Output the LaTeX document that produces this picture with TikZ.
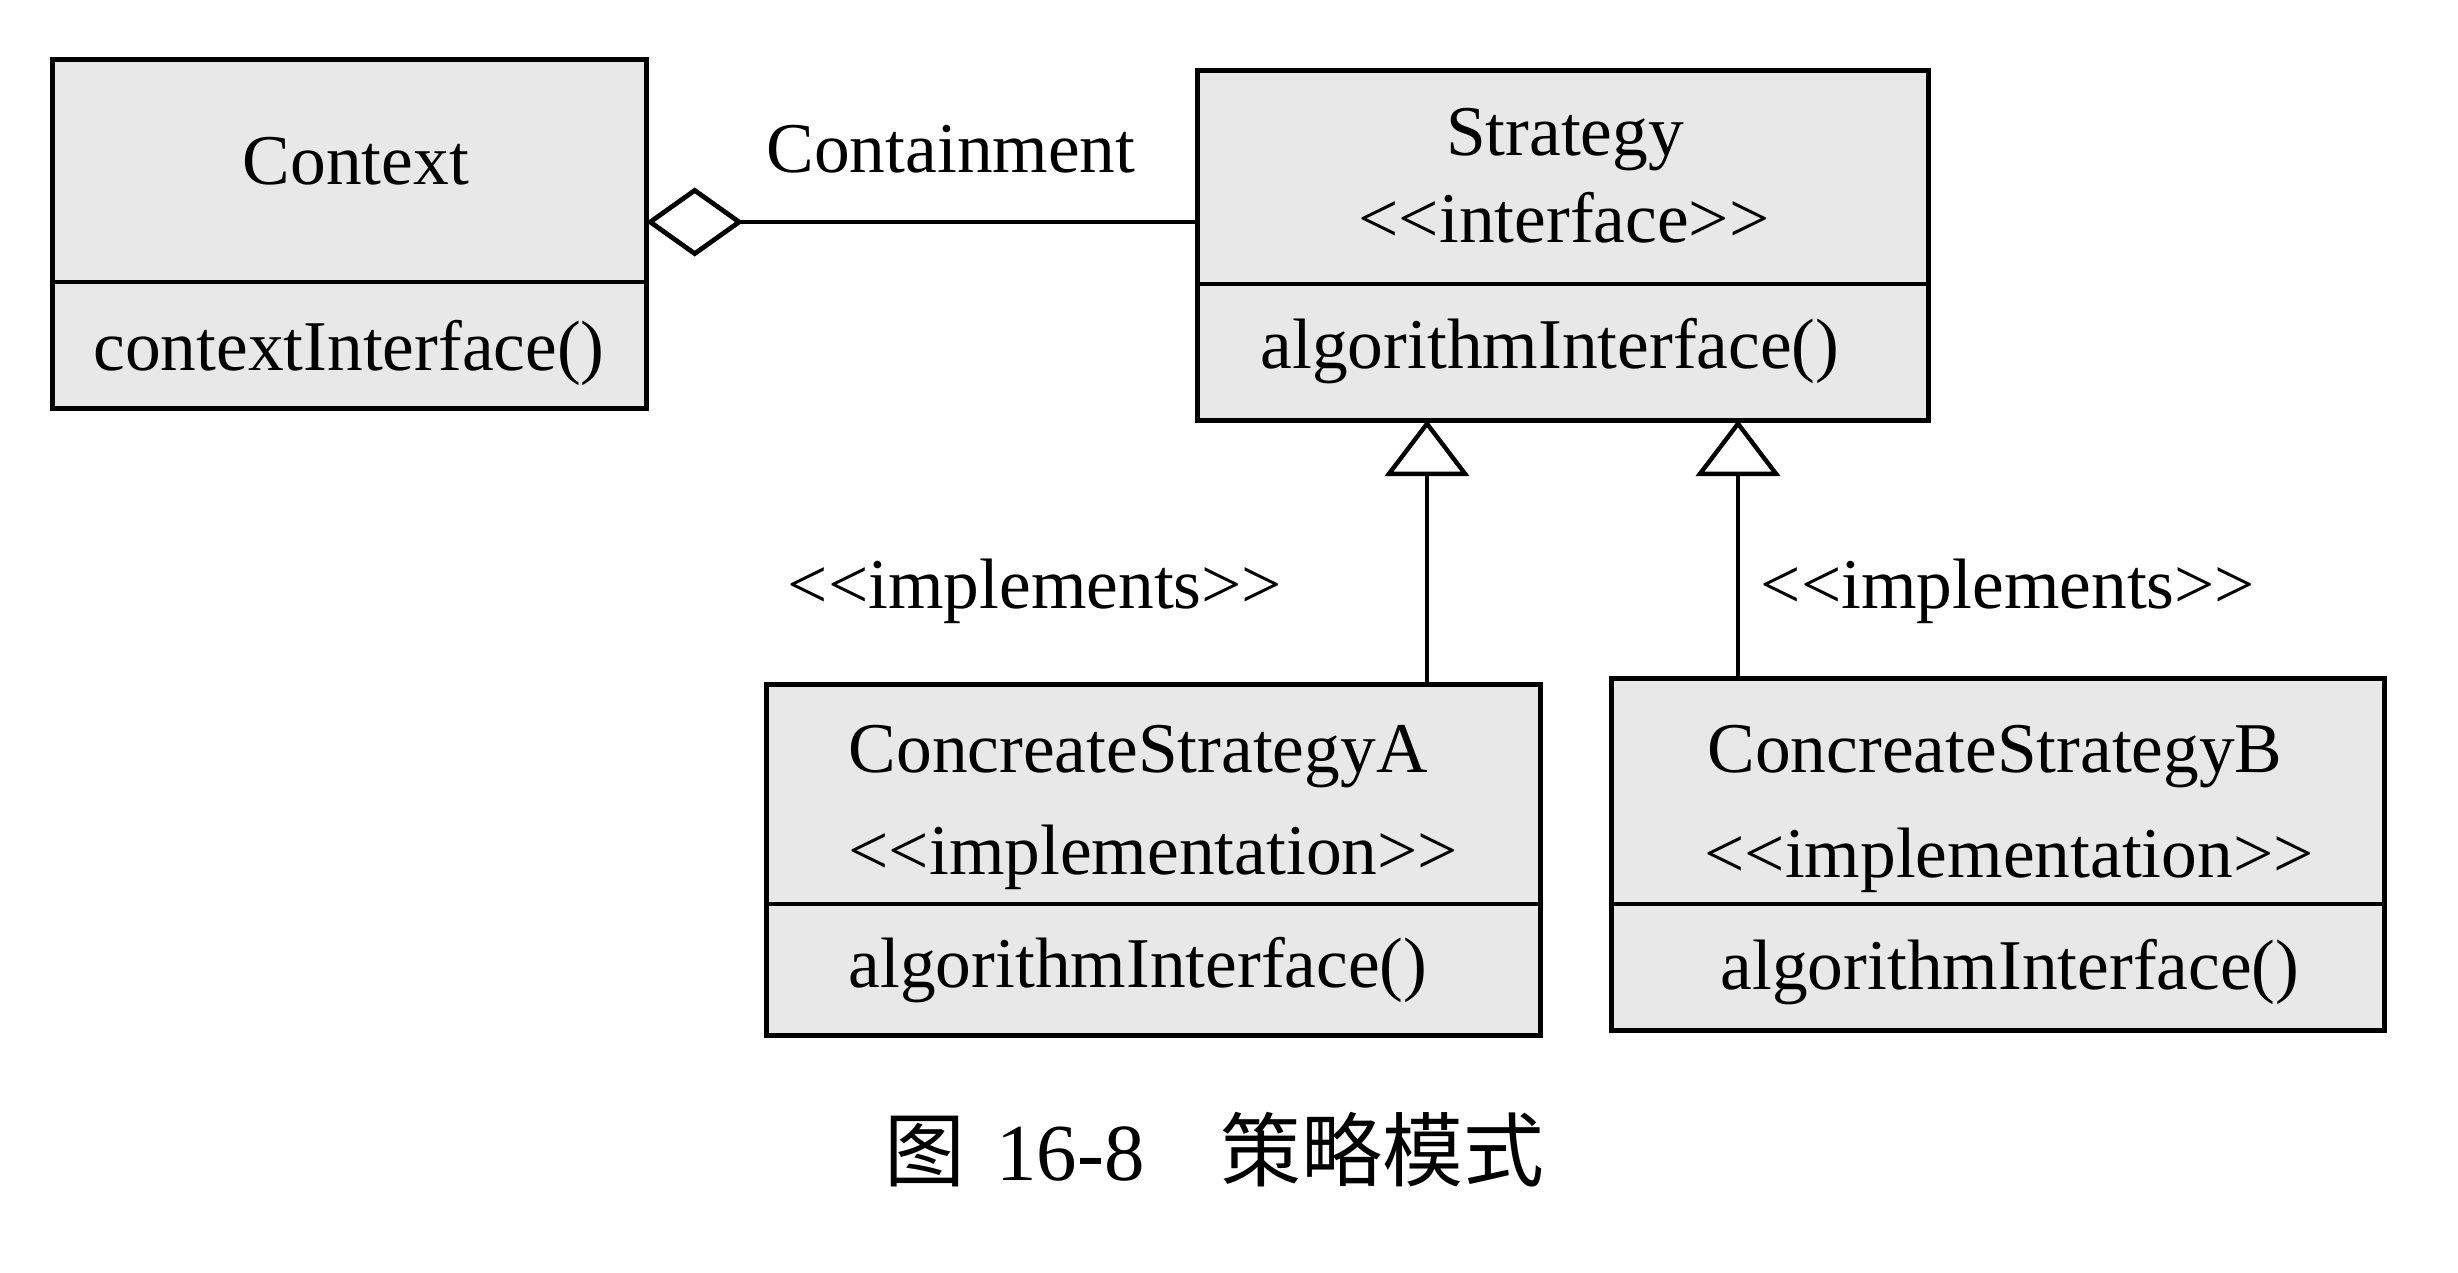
\documentclass[tikz,border=0pt]{standalone}
\usepackage{fontspec}
\setmainfont{Liberation Serif}
\newfontfamily\cjk{Noto Sans CJK SC}
\usetikzlibrary{arrows.meta}
\newcommand\myll{<\kern0pt<}
\newcommand\mygg{>\kern0pt>}
\tikzset{
  comp/.style={draw=black, fill=black!9, line width=1.4pt, inner sep=0pt, outer sep=0pt, rectangle},
  lbl/.style={inner sep=0pt, font=\fontsize{20.3}{24}\selectfont},
  aggr/.style={line width=1.35pt, -{Diamond[open, fill=white, length=0.97cm, width=0.69cm]}},
  impl/.style={line width=1.25pt, -{Triangle[open, fill=white, length=0.56cm, width=0.84cm]}}
}
\begin{document}
\begin{tikzpicture}[x=0.01cm, y=-0.01cm]
\useasboundingbox[fill=white] (0,0) rectangle (2458,1272);
% Context
\node[comp, minimum width=5.93cm, minimum height=2.22cm] (ctxT) at (349.5,171) {};
\node[comp, minimum width=5.93cm, minimum height=1.26cm] (ctxB) at (349.5,345) {};
% Strategy
\node[comp, minimum width=7.30cm, minimum height=2.13cm] (strT) at (1563,177.5) {};
\node[comp, minimum width=7.30cm, minimum height=1.36cm] (strB) at (1563,352) {};
% ConcreateStrategyA
\node[comp, minimum width=7.73cm, minimum height=2.19cm] (aT) at (1153.5,794.5) {};
\node[comp, minimum width=7.73cm, minimum height=1.31cm] (aB) at (1153.5,969.5) {};
% ConcreateStrategyB
\node[comp, minimum width=7.72cm, minimum height=2.25cm] (bT) at (1998,791.5) {};
\node[comp, minimum width=7.72cm, minimum height=1.26cm] (bB) at (1998,967) {};
% texts
\node[lbl, anchor=base] (tctx) at (356,184) {Context};
\node[lbl, anchor=base] (tctxi) at (349,370) {contextInterface()};
\node[lbl, anchor=base] (tcont) at (951,172) {Containment};
\node[lbl, anchor=base] (tstr) at (1565,155) {Strategy};
\node[lbl, anchor=base] (tstri) at (1564,242) {\myll interface\mygg};
\node[lbl, anchor=base] (tstra) at (1550,368) {algorithmInterface()};
\node[lbl, anchor=base west] (ta1) at (848,772) {ConcreateStrategyA};
\node[lbl, anchor=base west] (ta2) at (848,874) {\myll implementation\mygg};
\node[lbl, anchor=base west] (ta3) at (848,987) {algorithmInterface()};
\node[lbl, anchor=base] (tb1) at (1995,772) {ConcreateStrategyB};
\node[lbl, anchor=base] (tb2) at (2009,877) {\myll implementation\mygg};
\node[lbl, anchor=base] (tb3) at (2010,989) {algorithmInterface()};
\node[lbl, anchor=base] (imp1) at (1035,608) {\myll implements\mygg};
\node[lbl, anchor=base] (imp2) at (2008,608) {\myll implements\mygg};
% caption
\node[inner sep=0pt, anchor=base west, font=\fontsize{23}{28}\selectfont] (cap) at (884,1180)
  {{\cjk 图}\hspace{8.8pt}16-8\hspace{21.5pt}{\cjk 策略模式}};
% connectors
\coordinate (ya) at (0,222);
\coordinate (xa) at (1427,0);
\coordinate (xb) at (1738,0);
\draw[aggr] (strT.west |- ya) -- (ctxT.east |- ya);
\draw[impl] (aT.north -| xa) -- (strB.south -| xa);
\draw[impl] (bT.north -| xb) -- (strB.south -| xb);
\end{tikzpicture}
\end{document}
